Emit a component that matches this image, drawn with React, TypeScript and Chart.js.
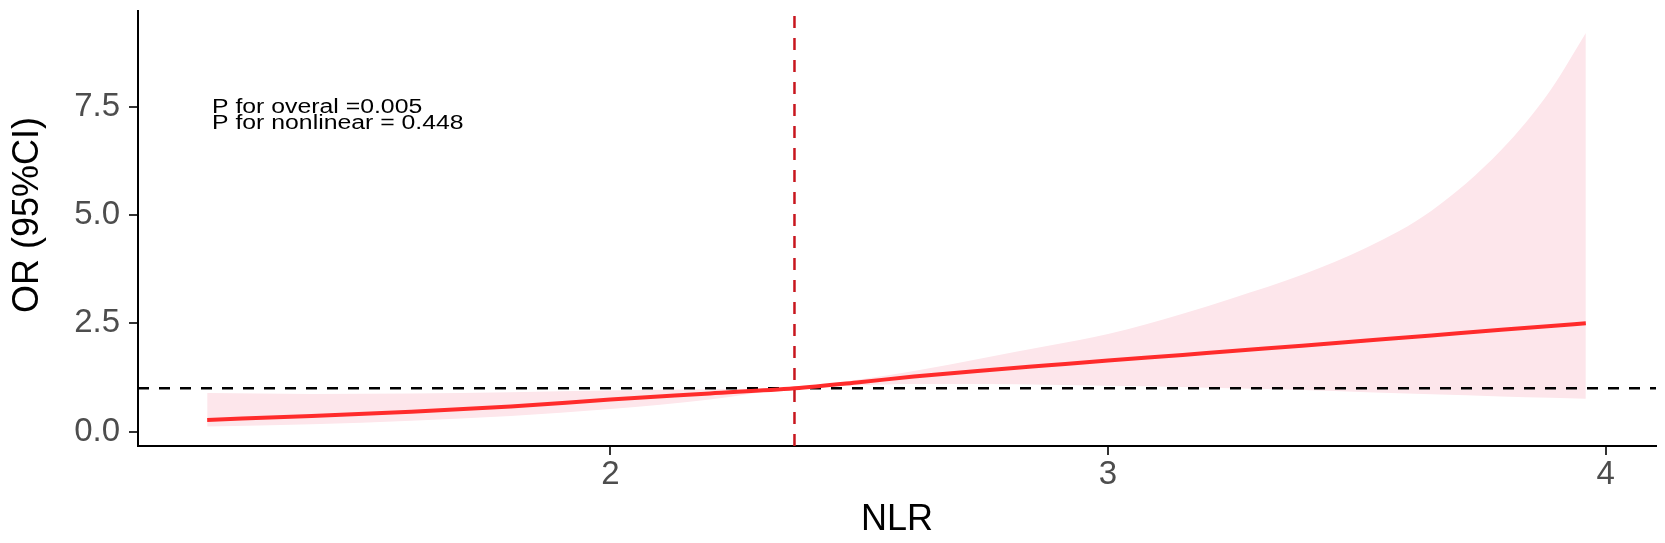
import React, { useEffect, useRef } from "react";
import { Chart, registerables } from "chart.js";

Chart.register(...registerables);

// ---- data ----
const nlrValues = [1.19, 1.4, 1.6, 1.8, 2.0, 2.2, 2.37, 2.5, 2.61, 2.75, 2.88, 3.0, 3.15, 3.25, 3.39, 3.52, 3.65, 3.79, 3.89, 3.96];
const orValues = [0.27, 0.36, 0.46, 0.58, 0.74, 0.88, 1.0, 1.14, 1.27, 1.41, 1.53, 1.64, 1.77, 1.86, 1.98, 2.1, 2.22, 2.35, 2.44, 2.5];
const upperValues = [0.89, 0.87, 0.88, 0.91, 0.95, 0.98, 1.0, 1.2, 1.4, 1.7, 1.98, 2.25, 2.72, 3.08, 3.62, 4.25, 5.1, 6.5, 7.9, 9.2];
const lowerValues = [0.12, 0.17, 0.25, 0.36, 0.52, 0.74, 1.0, 1.07, 1.1, 1.1, 1.08, 1.06, 1.03, 1.0, 0.96, 0.91, 0.86, 0.81, 0.78, 0.76];

const yTickValues = [0, 2.5, 5, 7.5];
const yTickLabels = ["0.0", "2.5", "5.0", "7.5"];
const xTickValues = [2, 3, 4];
const xTickLabels = ["2", "3", "4"];

const refNLR = 2.37;
const refOR = 1;
const xLimits = [1.051, 4.101];
const yLimits = [-0.333, 9.71];

const annotationLines = ["P for overal =0.005", "P for nonlinear = 0.448"];
const xTitle = "NLR";
const yTitle = "OR (95%CI)";

const FONT = "'Liberation Sans', Arial, sans-serif";

export default function App() {
  const canvasRef = useRef<HTMLCanvasElement | null>(null);

  useEffect(() => {
    const canvas = canvasRef.current;
    if (!canvas) return;
    const pts = (ys: number[]) => nlrValues.map((x, i) => ({ x, y: ys[i] }));

    const textPlugin = {
      id: "texts",
      afterDraw(chart: any) {
        const ctx = chart.ctx as CanvasRenderingContext2D;
        const area = chart.chartArea;
        ctx.save();
        ctx.fillStyle = "#000";
        // x title
        ctx.font = `36px ${FONT}`;
        ctx.textAlign = "center";
        ctx.textBaseline = "alphabetic";
        ctx.fillText(xTitle, (area.left + area.right) / 2, 530);
        // y title
        ctx.save();
        ctx.translate(38, 215);
        ctx.rotate(-Math.PI / 2);
        ctx.font = `36px ${FONT}`;
        ctx.textAlign = "center";
        ctx.textBaseline = "alphabetic";
        ctx.fillText(yTitle, 0, 0);
        ctx.restore();
        // annotation
        ctx.font = `20px ${FONT}`;
        ctx.textAlign = "left";
        ctx.textBaseline = "alphabetic";
        const baselines = [113, 129];
        annotationLines.forEach((line, i) => {
          ctx.save();
          ctx.translate(212, baselines[i]);
          ctx.scale(1.24, 1);
          ctx.fillText(line, 0, 0);
          ctx.restore();
        });
        ctx.restore();
      },
    };

    const chart = new Chart(canvas, {
      type: "line",
      data: {
        datasets: [
          {
            label: "ref",
            data: [
              { x: refNLR, y: yLimits[0] },
              { x: refNLR, y: yLimits[1] },
            ],
            borderColor: "#C8161E",
            borderWidth: 2.5,
            borderDash: [12, 10],
            pointRadius: 0,
            fill: false,
            order: 0,
          },
          {
            label: "OR",
            data: pts(orValues),
            borderColor: "#FF2B2B",
            borderWidth: 4,
            pointRadius: 0,
            fill: false,
            cubicInterpolationMode: "monotone",
            order: 1,
          },
          {
            label: "hline",
            data: [
              { x: xLimits[0], y: refOR },
              { x: xLimits[1], y: refOR },
            ],
            borderColor: "#000",
            borderWidth: 2.5,
            borderDash: [11, 10],
            pointRadius: 0,
            fill: false,
            order: 2,
          },
          {
            label: "upper",
            data: pts(upperValues),
            borderColor: "rgba(0,0,0,0)",
            borderWidth: 0,
            backgroundColor: "#FDE6EB",
            pointRadius: 0,
            fill: "+1",
            cubicInterpolationMode: "monotone",
            order: 3,
          },
          {
            label: "lower",
            data: pts(lowerValues),
            borderColor: "rgba(0,0,0,0)",
            borderWidth: 0,
            pointRadius: 0,
            fill: false,
            cubicInterpolationMode: "monotone",
            order: 4,
          },
        ],
      },
      options: {
        animation: false,
        responsive: false,
        devicePixelRatio: 1,
        layout: { padding: { left: 0, right: 9, top: 11, bottom: 0 } },
        plugins: {
          legend: { display: false },
          tooltip: { enabled: false },
        },
        scales: {
          x: {
            type: "linear",
            min: xLimits[0],
            max: xLimits[1],
            afterFit: (s: any) => {
              s.height = 97;
              s.paddingLeft = 0;
              s.paddingRight = 0;
            },
            afterBuildTicks: (s: any) => {
              s.ticks = xTickValues.map((v) => ({ value: v }));
            },
            ticks: {
              callback: (v: any) => {
                const i = xTickValues.indexOf(Number(v));
                return i >= 0 ? xTickLabels[i] : "";
              },
              color: "#4D4D4D",
              font: { family: FONT, size: 33 },
              padding: 0,
              maxRotation: 0,
            },
            grid: {
              display: true,
              drawOnChartArea: false,
              drawTicks: true,
              tickLength: 9,
              color: "#333",
              lineWidth: 2,
            },
            border: { display: true, color: "#000", width: 2 },
          },
          y: {
            type: "linear",
            min: yLimits[0],
            max: yLimits[1],
            afterFit: (s: any) => {
              s.width = 138;
              s.paddingTop = 0;
              s.paddingBottom = 0;
            },
            afterBuildTicks: (s: any) => {
              s.ticks = yTickValues.map((v) => ({ value: v }));
            },
            ticks: {
              callback: (v: any) => {
                const i = yTickValues.indexOf(Number(v));
                return i >= 0 ? yTickLabels[i] : "";
              },
              color: "#4D4D4D",
              font: { family: FONT, size: 33 },
              padding: 9,
            },
            grid: {
              display: true,
              drawOnChartArea: false,
              drawTicks: true,
              tickLength: 9,
              color: "#333",
              lineWidth: 2,
            },
            border: { display: true, color: "#000", width: 2 },
          },
        },
      },
      plugins: [textPlugin],
    } as any);

    return () => chart.destroy();
  }, []);

  return (
    <div style={{ position: "absolute", left: 0, top: 0, width: 1665, height: 543, background: "#fff" }}>
      <canvas ref={canvasRef} width={1665} height={543} style={{ width: 1665, height: 543, display: "block" }} />
    </div>
  );
}
